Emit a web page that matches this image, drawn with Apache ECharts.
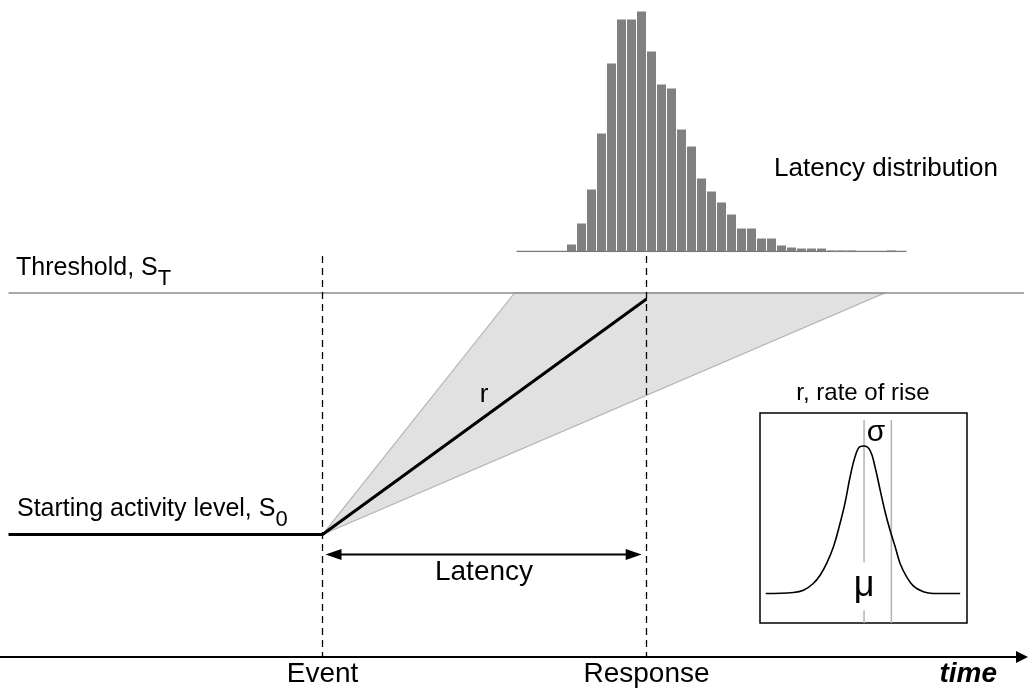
<!DOCTYPE html>
<html>
<head>
<meta charset="utf-8">
<title>LATER model</title>
<script src="https://cdn.jsdelivr.net/npm/echarts@6/dist/echarts.min.js"></script>
<style>
  html, body { margin: 0; padding: 0; background: #fff; }
  #main { width: 1029px; height: 691px; }
</style>
</head>
<body>
<div id="main"></div>
<script>
// time in ms from the event, activity scaled so that S0 = 0 and ST = 1
const eventTime = 0;
const responseTime = 162;
const timeTicks = [eventTime, responseTime];
const timeTickLabels = ['Event', 'Response'];

const startLevel = 0;
const thresholdLevel = 1;
const traceStart = -157;
const thresholdEnd = 353;
const riseEnd = [162, 0.975];      // mean trajectory r, stops just under ST
const fastestHit = 96;             // the grey fan meets ST between these times
const slowestHit = 281;
const markerTop = 1.153;           // top of the dashed event / response markers
const latencyArrow = [1.5, 159.6, -0.083];

// latency histogram, 5 ms bins from 122 ms
const histStart = 122;
const histBin = 5;
const histCounts = [7, 28, 62, 118, 188, 232, 232, 240, 200, 167, 163, 122, 105, 73, 60,
  49, 37, 23, 23, 13, 13, 6, 4, 3, 3, 3, 1, 1, 1, 0, 0, 0, 1];
const histBaseline = [97, 292];

// inset: distribution of the rate of rise, x in sigma units from the mean
const rateX = [-3.6, -2.59, -2.22, -1.86, -1.61, -1.37, -1.12, -0.88, -0.7, -0.51, -0.33, -0.15, 0,
  0.22, 0.4, 0.59, 0.77, 0.95, 1.14, 1.32, 1.56, 1.81, 2.17, 2.54, 3.52];
const rateY = [0, 0.007, 0.022, 0.068, 0.124, 0.204, 0.317, 0.475, 0.611, 0.792, 0.928, 0.996, 1,
  0.971, 0.86, 0.701, 0.554, 0.43, 0.317, 0.204, 0.113, 0.05, 0.012, 0, 0];
const rateMean = 0;
const rateSigma = 1;
const rateGuideTop = 1.177;

// text anchors in (time, activity)
const noteAnchors = [[-153.25, 1.102], [-152.75, 0.104], [80.75, 0.578], [80.75, -0.155], [225.75, 1.513], [270.25, 0.584]];
const noteTexts = ['{m|Threshold, S}{s|T}', '{m|Starting activity level, S}{s|0}', 'r', 'Latency', 'Latency distribution', 'r, rate of rise'];
const insetAnchors = [[0.44, 1.088], [0, 0.05]];
const insetTexts = ['σ', 'μ'];

const FONT = 'Liberation Sans, Arial, Helvetica, sans-serif';
const chart = echarts.init(document.getElementById('main'), null, { renderer: 'canvas' });

const subRich = {
  m: { fontSize: 25, fontFamily: FONT, color: '#000' },
  s: { fontSize: 22, fontFamily: FONT, color: '#000', padding: [22, 0, 0, 0] }
};
const noteStyle = [
  { align: 'left', fontSize: 25, rich: subRich },
  { align: 'left', fontSize: 25, rich: subRich },
  { align: 'center', fontSize: 26 },
  { align: 'center', fontSize: 28 },
  { align: 'left', fontSize: 26 },
  { align: 'center', fontSize: 24 }
];

const hiddenAxis = { show: false, axisLine: { show: false }, axisTick: { show: false }, splitLine: { show: false }, axisLabel: { show: false } };
const dashStyle = { color: '#000', width: 1.3, type: [7, 5] };

// two-headed arrow between two times at one level
function renderArrow(params, api) {
  const a = api.coord([api.value(0), api.value(2)]);
  const b = api.coord([api.value(1), api.value(2)]);
  const len = 16, half = 5.5;
  const head = (tip, dir) => ({
    type: 'polygon',
    shape: { points: [tip, [tip[0] + dir * len, tip[1] - half], [tip[0] + dir * len, tip[1] + half]] },
    style: { fill: '#000' }
  });
  return {
    type: 'group',
    children: [
      { type: 'line', shape: { x1: a[0] + 4, y1: a[1], x2: b[0] - 4, y2: b[1] }, style: { stroke: '#000', lineWidth: 2 } },
      head(a, 1),
      head(b, -1)
    ]
  };
}

const option = {
  animation: false,
  backgroundColor: '#fff',
  grid: [
    { left: 0, right: 7, top: 0, bottom: 34, outerBoundsMode: 'none' },
    { left: 0, right: 7, top: 11.5, height: 240, outerBoundsMode: 'none' },
    { left: 760, top: 413, width: 207, height: 210, show: true, borderColor: '#000', borderWidth: 1.5,
      backgroundColor: 'rgba(0,0,0,0)', outerBoundsMode: 'none' }
  ],
  xAxis: [
    {
      type: 'value', gridIndex: 0, min: -161.25, max: 349.75,
      splitLine: { show: false },
      axisTick: { show: false },
      axisLine: { show: true, onZero: false, lineStyle: { color: '#000', width: 2 },
        symbol: ['none', 'triangle'], symbolSize: [12, 12] },
      axisLabel: {
        customValues: timeTicks,
        formatter: v => timeTickLabels[timeTicks.indexOf(v)] || '',
        fontSize: 28, fontFamily: FONT, color: '#000', margin: 3
      },
      name: 'time', nameLocation: 'end', nameGap: -25,
      nameTextStyle: { fontSize: 28, fontFamily: FONT, fontWeight: 'bold', fontStyle: 'italic',
        color: '#000', align: 'right', verticalAlign: 'top', padding: [3, 0, 0, 0] }
    },
    Object.assign({ type: 'value', gridIndex: 1, min: -161.25, max: 349.75 }, hiddenAxis),
    Object.assign({ type: 'value', gridIndex: 2, min: -3.81, max: 3.77 }, hiddenAxis)
  ],
  yAxis: [
    Object.assign({ type: 'value', gridIndex: 0, min: -0.507, max: 2.213 }, hiddenAxis),
    Object.assign({ type: 'value', gridIndex: 1, min: 0, max: 240 }, hiddenAxis),
    Object.assign({ type: 'value', gridIndex: 2, min: -0.2, max: 1.224 }, hiddenAxis)
  ],
  series: [
    {
      // spread of trajectories
      type: 'custom', xAxisIndex: 0, yAxisIndex: 0, clip: false, silent: true,
      data: [[eventTime, startLevel, fastestHit, slowestHit, thresholdLevel]],
      encode: { x: [0, 2, 3], y: [1, 4] },
      renderItem: (params, api) => {
        const a = api.coord([api.value(0), api.value(1)]);
        const b = api.coord([api.value(2), api.value(4)]);
        const c = api.coord([api.value(3), api.value(4)]);
        return { type: 'polygon', shape: { points: [a, b, c] },
          style: { fill: '#e1e1e1', stroke: '#b4b4b4', lineWidth: 1.2 } };
      }
    },
    {
      type: 'line', xAxisIndex: 0, yAxisIndex: 0, clip: false, symbol: 'none', silent: true,
      data: [[traceStart, thresholdLevel], [thresholdEnd, thresholdLevel]],
      lineStyle: { color: '#8c8c8c', width: 1.5 }
    },
    {
      type: 'line', xAxisIndex: 0, yAxisIndex: 0, symbol: 'none', silent: true,
      data: [[traceStart, startLevel], [eventTime, startLevel], riseEnd],
      lineStyle: { color: '#000', width: 3 }
    },
    {
      type: 'line', xAxisIndex: 0, yAxisIndex: 0, symbol: 'none', silent: true,
      data: [[eventTime, markerTop], [eventTime, -0.507]],
      lineStyle: dashStyle
    },
    {
      type: 'line', xAxisIndex: 0, yAxisIndex: 0, symbol: 'none', silent: true,
      data: [[responseTime, markerTop], [responseTime, -0.507]],
      lineStyle: dashStyle
    },
    {
      type: 'custom', xAxisIndex: 0, yAxisIndex: 0, clip: false, silent: true,
      data: [latencyArrow],
      encode: { x: [0, 1], y: 2 },
      renderItem: renderArrow
    },
    {
      type: 'line', xAxisIndex: 1, yAxisIndex: 1, symbol: 'none', silent: true,
      data: [[histBaseline[0], 0], [histBaseline[1], 0]],
      lineStyle: { color: '#7a7a7a', width: 1.5 }
    },
    {
      type: 'bar', xAxisIndex: 1, yAxisIndex: 1, silent: true, barWidth: 9,
      data: histCounts.map((c, i) => [histStart + histBin * (i + 0.5), c]),
      itemStyle: { color: '#808080' }
    },
    {
      type: 'line', xAxisIndex: 2, yAxisIndex: 2, symbol: 'none', silent: true,
      data: [[rateMean, rateGuideTop], [rateMean, -0.2]],
      lineStyle: { color: '#b4b4b4', width: 1.5 }
    },
    {
      type: 'line', xAxisIndex: 2, yAxisIndex: 2, symbol: 'none', silent: true,
      data: [[rateMean + rateSigma, rateGuideTop], [rateMean + rateSigma, -0.2]],
      lineStyle: { color: '#b4b4b4', width: 1.5 }
    },
    {
      type: 'line', xAxisIndex: 2, yAxisIndex: 2, symbol: 'none', silent: true,
      smooth: 0.4,
      data: rateX.map((x, i) => [x, rateY[i]]),
      lineStyle: { color: '#000', width: 1.6 }
    },
    {
      type: 'scatter', xAxisIndex: 0, yAxisIndex: 0, symbolSize: 0, clip: false, silent: true,
      itemStyle: { opacity: 1 },
      data: noteAnchors.map((p, i) => ({
        value: p,
        label: Object.assign({ show: true, position: 'inside', formatter: noteTexts[i],
          color: '#000', opacity: 1, fontFamily: FONT, verticalAlign: 'middle' }, noteStyle[i])
      }))
    },
    {
      type: 'scatter', xAxisIndex: 2, yAxisIndex: 2, symbolSize: 0, clip: false, silent: true, z: 5,
      itemStyle: { opacity: 1 },
      data: insetAnchors.map((p, i) => ({
        value: p,
        label: i === 0
          ? { show: true, position: 'inside', formatter: insetTexts[i], fontSize: 30, fontFamily: FONT,
              color: '#000', opacity: 1 }
          : { show: true, position: 'inside', formatter: insetTexts[i], fontSize: 36, lineHeight: 32, fontFamily: FONT,
              color: '#000', opacity: 1, backgroundColor: '#fff', padding: [8, 2] }
      }))
    }
  ]
};

chart.setOption(option);
</script>
</body>
</html>
